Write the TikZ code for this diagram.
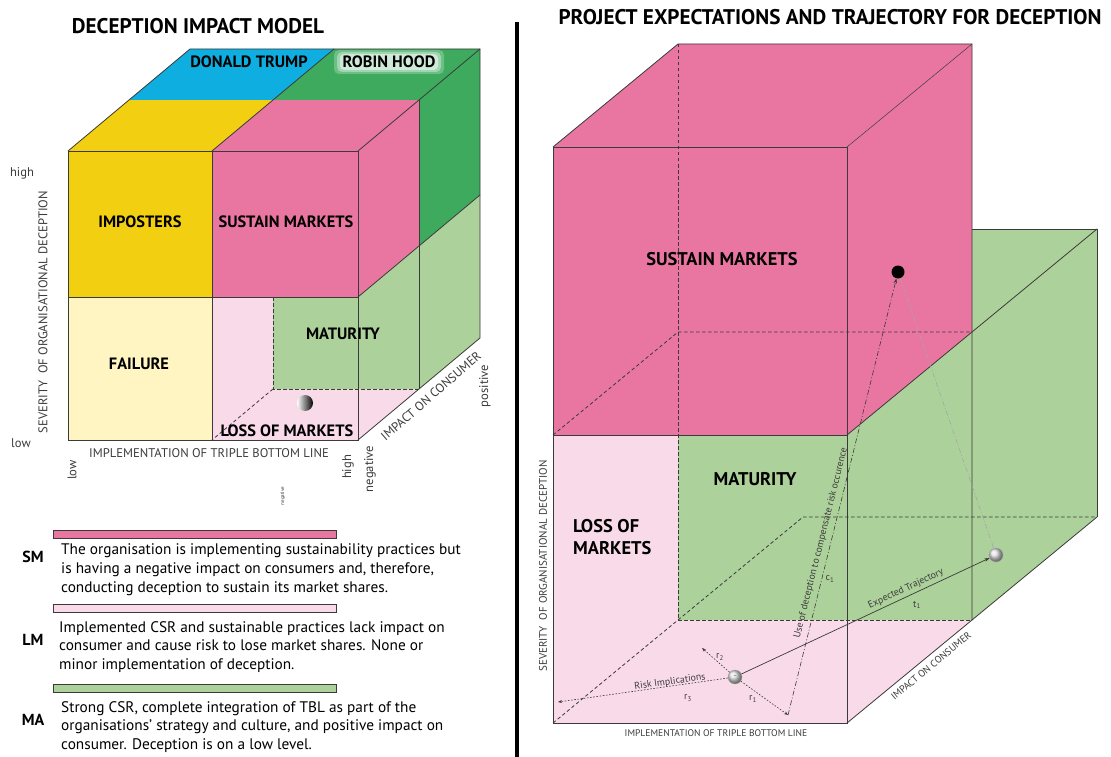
\documentclass[tikz,border=0pt]{standalone}
\usepackage{fontspec}
\setmainfont{PT Sans}
\usetikzlibrary{arrows.meta}

\definecolor{cyellow}{HTML}{F2CF10}
\definecolor{clyellow}{HTML}{FEF5C2}
\definecolor{cblue}{HTML}{0FAEE0}
\definecolor{cdgreen}{HTML}{3DAA5E}
\definecolor{cpink}{HTML}{E976A0}
\definecolor{clpink}{HTML}{F9DAE9}
\definecolor{clgreen}{HTML}{ADD19B}
\definecolor{cedge}{HTML}{3A3A3A}
\definecolor{ctext}{HTML}{3C3C3C}

\begin{document}
\begin{tikzpicture}[x=1pt,y=-1pt,
  edge/.style={draw=cedge,line width=0.8pt},
  thinedge/.style={draw=cedge,line width=0.5pt},
  hidden/.style={draw=cedge,line width=0.8pt,dash pattern=on 3.5pt off 2.5pt},
  title/.style={font=\fontsize{21.2}{23}\selectfont\bfseries,inner sep=0pt},
  regionL/.style={font=\fontsize{16.4}{18}\selectfont\bfseries,inner sep=1pt},
  regionR/.style={font=\fontsize{18.4}{21.5}\selectfont\bfseries,inner sep=1pt},
  axisL/.style={font=\fontsize{12.6}{14}\selectfont,text=ctext,inner sep=0pt},
  axisR/.style={font=\fontsize{9.6}{11}\selectfont,text=ctext,inner sep=0pt},
  note/.style={font=\fontsize{9.8}{11}\selectfont,text=ctext,inner sep=0pt},
  legkey/.style={font=\fontsize{16}{18}\selectfont\bfseries,inner sep=0pt},
  legtext/.style={font=\fontsize{15.3}{18.8}\selectfont,align=left,anchor=west,inner sep=0pt},
  legbar/.style={draw=cedge,line width=0.6pt},
  glow/.style={white,rounded corners=5pt},
  gball/.style={circle,inner sep=0pt,minimum size=14pt,shading=ball,ball color=gray!25,draw=gray!70,line width=0.4pt},
  riskarrow/.style={draw=cedge,line width=0.6pt,dash pattern=on 1.6pt off 1.6pt,-{Stealth[length=4pt,width=3pt]}},
  traj/.style={draw=cedge,line width=0.7pt,-{Stealth[length=5pt,width=3.5pt]}},
  dashdotarrow/.style={draw=cedge,line width=0.6pt,dash pattern=on 5pt off 2pt on 1pt off 2pt,-{Stealth[length=5pt,width=3.5pt]}},
  dashdotgray/.style={draw=gray!70,line width=0.6pt,dash pattern=on 5pt off 2pt on 1pt off 2pt}
]
\useasboundingbox (0,0) rectangle (1111,757);
\fill[white] (0,0) rectangle (1111,757);

% ---------------- Deception impact model (2 x 2 x 2 cube) ----------------
% top faces
\fill[cyellow] (68,151) -- (212,151) -- (273,100) -- (129,100) -- cycle;
\fill[cpink]   (212,151) -- (358,151) -- (419,100) -- (273,100) -- cycle;
\fill[cblue]   (129,100) -- (273,100) -- (334,49) -- (190,49) -- cycle;
\fill[cdgreen] (273,100) -- (419,100) -- (480,49) -- (334,49) -- cycle;
% front faces
\fill[cyellow]  (68,151) rectangle (212,297);
\fill[cpink]    (212,151) rectangle (358,297);
\fill[clyellow] (68,297) rectangle (212,440);
\fill[clpink]   (212,297) rectangle (358,440);
% right side, upper half
\fill[cpink]   (358,151) -- (419,100) -- (419,246) -- (358,297) -- cycle;
\fill[cdgreen] (419,100) -- (480,49) -- (480,195) -- (419,246) -- cycle;
% maturity block (back, lower right)
\fill[clgreen] (273,297) -- (358,297) -- (480,195) -- (480,338) -- (419,389) -- (273,389) -- cycle;
\fill[clpink]  (358,389) -- (419,389) -- (358,440) -- cycle;
% edges
\draw[edge] (68,151) rectangle (358,440);
\draw[edge] (212,151) -- (212,440);
\draw[edge] (68,297) -- (358,297);
\draw[edge] (68,151) -- (190,49) -- (480,49) -- (480,338) -- (358,440);
\draw[edge] (212,151) -- (334,49);
\draw[edge] (358,151) -- (480,49);
\draw[edge] (419,100) -- (419,389);
\draw[edge] (358,297) -- (480,195);
\draw[hidden] (273,297) -- (273,389) -- (419,389);
\draw[hidden] (273,389) -- (212,440);
% position marker
\node[circle,inner sep=0pt,minimum size=16pt,left color=white,right color=black] (pos) at (305,403) {};

% soft halo behind the Robin Hood label
\fill[glow,opacity=0.25] (334,50) rectangle (444,74);
\fill[glow,opacity=0.35] (337,52) rectangle (441,72);
\fill[glow,opacity=0.5,rounded corners=4pt] (340,54) rectangle (438,70);

% region names
\node[regionL] (trump) at (249,62) {DONALD TRUMP};
\node[regionL] (robin) at (389,62) {ROBIN HOOD};
\node[regionL] (impost) at (140,222) {IMPOSTERS};
\node[regionL] (sustL) at (286,222) {SUSTAIN MARKETS};
\node[regionL] (fail) at (139,364) {FAILURE};
\node[regionL] (matL) at (343,334) {MATURITY};
\node[regionL] (lossL) at (287,431) {LOSS OF MARKETS};

% axes
\node[title] (titleL) at (198,26) {DECEPTION IMPACT MODEL};
\node[axisL,rotate=90] (sevL) at (43,312) {SEVERITY\ \ OF ORGANISATIONAL DECEPTION};
\node[axisL] (hiL) at (22,173) {high};
\node[axisL] (loL) at (21,443) {low};
\node[axisL] (tblL) at (209,453) {IMPLEMENTATION OF TRIPLE BOTTOM LINE};
\node[axisL,rotate=90] (tblLo) at (72,470) {low};
\node[axisL,rotate=90] (tblHi) at (348,467) {high};
\node[axisL,rotate=90] (negA) at (370,469) {negative};
\node[axisL,rotate=90,font=\fontsize{5}{6}\selectfont] (negB) at (283,496) {negative};
\node[axisL,rotate=90] (posA) at (485,386) {positive};
\node[axisL,rotate=41] (impL) at (431,396) {IMPACT ON CONSUMER};

% legend
\fill[cpink,legbar] (53,530) rectangle (336,538);
\node[legkey] (smk) at (33,557) {SM};
\node[legtext] (smt) at (61,570) {The organisation is implementing sustainability practices but\\is having a negative impact on consumers and, therefore,\\conducting deception to sustain its market shares.};
\fill[clpink,legbar] (53,604) rectangle (336,612);
\node[legkey] (lmk) at (33,640) {LM};
\node[legtext] (lmt) at (59,647) {Implemented CSR and sustainable practices lack impact on\\consumer and cause risk to lose market shares. None or\\minor implementation of deception.};
\fill[clgreen,legbar] (53,684) rectangle (336,692);
\node[legkey] (mak) at (33,720) {MA};
\node[legtext] (mat) at (61,727) {Strong CSR, complete integration of TBL as part of the\\organisations' strategy and culture, and positive impact on\\consumer. Deception is on a low level.};

% divider
\draw[line width=4.5pt] (517,22) -- (517,757);

% ---------------- Projected expectations and trajectory ----------------
% lower front block (loss of markets)
\fill[clpink] (553,435) rectangle (847,723);
\fill[clpink] (847,435) -- (972,332) -- (972,620) -- (847,723) -- cycle;
% back block (maturity)
\fill[clgreen] (678,332) rectangle (972,620);
\fill[clgreen] (972,332) -- (1097,229) -- (1097,517) -- (972,620) -- cycle;
\fill[clgreen] (678,332) -- (972,332) -- (1097,229) -- (803,229) -- cycle;
% upper block (sustain markets)
\fill[cpink] (553,147) rectangle (847,435);
\fill[cpink] (847,147) -- (972,44) -- (972,332) -- (847,435) -- cycle;
\fill[cpink] (553,147) -- (678,44) -- (972,44) -- (847,147) -- cycle;
% hidden edges
\draw[hidden] (678,44) -- (678,620);
\draw[hidden] (553,435) -- (678,332) -- (972,332);
\draw[hidden] (678,620) -- (972,620);
\draw[hidden] (553,723) -- (678,620) -- (803,517) -- (1097,517);
% visible edges
\draw[edge] (553,147) rectangle (847,723);
\draw[edge] (553,435) -- (847,435);
\draw[edge] (553,147) -- (678,44) -- (972,44) -- (972,620);
\draw[thinedge] (847,147) -- (972,44);
\draw[edge] (847,435) -- (1097,229);
\draw[edge] (847,723) -- (1097,517);
\draw[edge] (972,229) -- (1097,229) -- (1097,517);

% region names
\node[regionR] (sustR) at (722,259) {SUSTAIN MARKETS};
\node[regionR] (matR) at (755,479) {MATURITY};
\node[regionR,align=left,anchor=west] (lossR) at (572,537) {LOSS OF\\MARKETS};

% axes
\node[title] (titleR) at (830,17) {PROJECT EXPECTATIONS AND TRAJECTORY FOR DECEPTION};
\node[axisR,rotate=90,font=\fontsize{11}{12}\selectfont] (sevR) at (543,566) {SEVERITY\ \ OF ORGANISATIONAL DECEPTION};
\node[axisR] (tblR) at (716,733) {IMPLEMENTATION OF TRIPLE BOTTOM LINE};
\node[axisR,rotate=39.5,font=\fontsize{9.9}{11}\selectfont] (impR) at (931,666) {IMPACT ON CONSUMER};

% trajectory
\node[gball] (origin) at (735,677) {\fontsize{6}{6}\selectfont\textcolor{gray!60!black}{--}};
\node[gball] (expect) at (996,555) {};
\node[circle,fill=black,inner sep=0pt,minimum size=13pt] (target) at (898,272) {};
\coordinate (r1end) at (788,715);
\coordinate (r2end) at (702,648);
\coordinate (r3end) at (558,702);

\draw[riskarrow] (origin) -- (r1end);
\draw[riskarrow] (origin) -- (r2end);
\draw[riskarrow] (origin) -- (r3end);
\draw[traj] (origin) -- (expect);
\draw[dashdotarrow] (r1end) -- (target);
\draw[dashdotgray] (target) -- (expect);

\node[note,rotate=8] (riskl) at (670,682) {Risk Implications};
\node[note] (r1l) at (753,699) {r\textsubscript{1}};
\node[note] (r2l) at (720,657) {r\textsubscript{2}};
\node[note] (r3l) at (688,698) {r\textsubscript{3}};
\node[note,rotate=25] (expl) at (906,589) {Expected Trajectory};
\node[note] (t1l) at (917,605) {t\textsubscript{1}};
\node[note,rotate=76] (usel) at (821,543) {Use of deception to compensate risk occurence};
\node[note] (c1l) at (830,579) {c\textsubscript{1}};
\end{tikzpicture}
\end{document}
